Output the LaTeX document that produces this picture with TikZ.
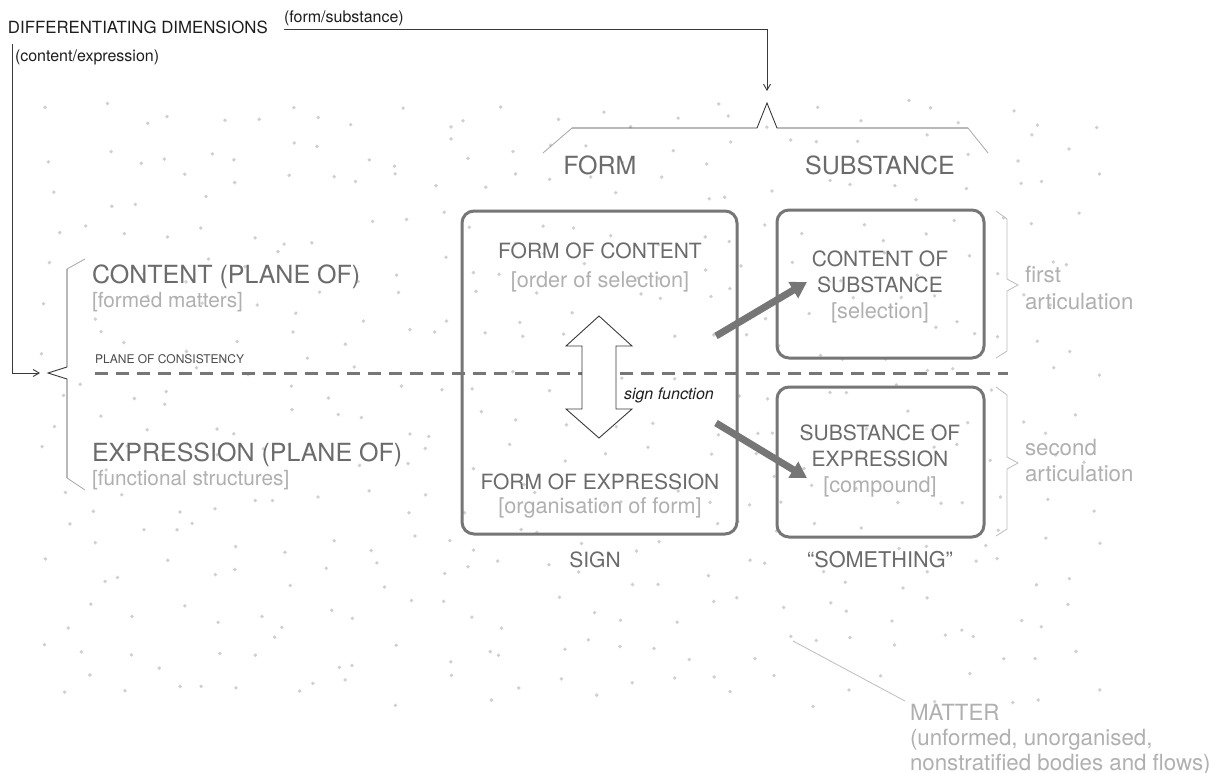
\documentclass[tikz,border=0pt]{standalone}
\usepackage{fontspec}
\setmainfont{TeX Gyre Heros}
\usetikzlibrary{arrows.meta}

\definecolor{ink}{HTML}{1E1E1E}
\definecolor{boxline}{HTML}{767676}
\definecolor{darktxt}{HTML}{6B6B6B}
\definecolor{lighttxt}{HTML}{B0B0B0}
\definecolor{dotc}{HTML}{D0D0D0}
\definecolor{thinline}{HTML}{3A3A3A}
\definecolor{paleline}{HTML}{BDBDBD}

\begin{document}
\begin{tikzpicture}[x=1pt,y=-1pt,
  every node/.style={inner sep=0pt, outer sep=0pt},
  heading/.style={font=\fontsize{16.8}{19}\selectfont, text=ink, anchor=base west},
  note/.style={font=\fontsize{16}{18}\selectfont, text=ink, anchor=base west},
  tinynote/.style={font=\fontsize{12}{14}\selectfont, text=ink!80, anchor=base west},
  plane/.style={font=\fontsize{25}{30}\selectfont, text=darktxt, anchor=base west},
  planesub/.style={font=\fontsize{20.8}{24}\selectfont, text=lighttxt, anchor=base west},
  column/.style={font=\fontsize{25}{30}\selectfont, text=darktxt, anchor=base},
  boxtitle/.style={font=\fontsize{21}{26}\selectfont, text=darktxt, anchor=base},
  boxsub/.style={font=\fontsize{21.7}{26}\selectfont, text=lighttxt, anchor=base},
  sidenote/.style={font=\fontsize{22.3}{26}\selectfont, text=lighttxt, anchor=base west},
  frame/.style={draw=boxline, line width=3pt, rounded corners=12pt},
  bracket/.style={draw=thinline, line width=0.9pt},
  fadedbracket/.style={draw=thinline!45, line width=0.8pt},
  palebracket/.style={draw=paleline, line width=0.8pt},
  flow/.style={draw=boxline, line width=7pt, -{Triangle[length=16pt,width=18pt]}},
  pointer/.style={draw=thinline, line width=0.9pt, -{Straight Barb[length=6pt,width=7pt]}},
]
\useasboundingbox (0,0) rectangle (1223,773);
\fill[white] (0,0) rectangle (1223,773);

% scattered matter: one jittered dot per grid cell
\pgfmathsetseed{20240}
\foreach \gx in {0,...,27}{
  \foreach \gy in {0,...,15}{
    \pgfmathsetmacro{\px}{40+\gx*38+34*rnd}
    \pgfmathsetmacro{\py}{96+\gy*38.5+34*rnd}
    \fill[dotc] (\px,\py) circle[radius=1.9pt];
  }
}

% plane of consistency
\coordinate (pcL) at (95,373);
\coordinate (pcR) at (1008,373);
\draw[boxline, line width=3pt, dash pattern=on 13pt off 8pt] (pcL) -- (pcR);

% frames
\node[frame, minimum width=275pt, minimum height=323pt] (sign) at (599.5,372.5) {};
\node[frame, minimum width=207pt, minimum height=148pt] (cs) at (880.5,284) {};
\node[frame, minimum width=207pt, minimum height=150pt] (se) at (880.5,462) {};

% sign function double arrow
\draw[bracket, fill=white] (599,316) -- (632,346) -- (616,346) -- (616,409) -- (632,409)
  -- (599,438) -- (566,409) -- (582,409) -- (582,346) -- (566,346) -- cycle;
\node[font=\fontsize{16}{18}\selectfont\itshape, text=ink, anchor=base west] (sf) at (624,399) {sign function};

% flows from form to substance
\coordinate (fcOut) at (716,336);
\coordinate (csIn) at (807,282);
\coordinate (feOut) at (716,423);
\coordinate (seIn) at (807,478);
\draw[flow] (fcOut) -- (csIn);
\draw[flow] (feOut) -- (seIn);

% headings and dimension pointers
\node[heading] (dims) at (8,34) {DIFFERENTIATING DIMENSIONS};
\node[note] (fs) at (284,23) {(form/substance)};
\node[note] (ce) at (15,62) {(content/expression)};
\coordinate (fsStart) at (284,29);
\coordinate (fsTip) at (767,91);
\coordinate (ceStart) at (12,44);
\coordinate (ceTip) at (40,373);
\draw[pointer] (fsStart) -| (fsTip);
\draw[pointer] (ceStart) |- (ceTip);

% braces
\draw[fadedbracket] (85,259) -- (67,269);
\draw[bracket] (67,269) -- (67,367) -- (48,373) -- (67,379) -- (67,478);
\draw[fadedbracket] (67,478) -- (85,490);
\draw[fadedbracket] (543,153) -- (572,128);
\draw[bracket] (572,128) -- (757,128) -- (767,103) -- (777,128) -- (968,128);
\draw[fadedbracket] (968,128) -- (988,153);
\draw[palebracket] (996,211) -- (1007,219) -- (1007,279) -- (1018,285) -- (1007,291) -- (1007,351) -- (996,358);
\draw[palebracket] (996,387) -- (1007,395) -- (1007,457) -- (1018,463) -- (1007,469) -- (1007,529) -- (996,536);

% plane labels
\node[plane] (cpl) at (92,283) {CONTENT (PLANE OF)};
\node[planesub] (cpls) at (92,307) {[formed matters]};
\node[tinynote] (pc) at (95,363) {PLANE OF CONSISTENCY};
\node[plane] (epl) at (92,461) {EXPRESSION (PLANE OF)};
\node[planesub] (epls) at (92,485) {[functional structures]};

% column labels
\node[column] (form) at (600,175) {FORM};
\node[column] (subst) at (880,175) {SUBSTANCE};

% sign box
\node[boxtitle] (foc) at (600,258) {FORM OF CONTENT};
\node[boxsub] (focs) at (600,287) {[order of selection]};
\node[boxtitle] (foe) at (600,489) {FORM OF EXPRESSION};
\node[boxsub] (foes) at (600,513) {[organisation of form]};
\node[boxtitle] (signlbl) at (595,567) {SIGN};

% substance boxes
\node[boxtitle] (cs1) at (880,266) {CONTENT OF};
\node[boxtitle] (cs2) at (880,292) {SUBSTANCE};
\node[boxsub] (cs3) at (880,318) {[selection]};
\node[boxtitle] (se1) at (880,440) {SUBSTANCE OF};
\node[boxtitle] (se2) at (880,466) {EXPRESSION};
\node[boxsub] (se3) at (880,492) {[compound]};
\node[boxtitle, font=\fontsize{21.7}{26}\selectfont] (sth) at (880,567) {“SOMETHING”};

% articulations
\node[sidenote] (fa1) at (1025,282) {first};
\node[sidenote] (fa2) at (1025,309) {articulation};
\node[sidenote] (sa1) at (1025,455) {second};
\node[sidenote] (sa2) at (1025,481) {articulation};

% matter
\coordinate (mLineA) at (793,641);
\coordinate (mLineB) at (905,701);
\draw[palebracket] (mLineA) -- (mLineB);
\node[sidenote] (m1) at (910,720) {MATTER};
\node[sidenote] (m2) at (910,745) {(unformed, unorganised,};
\node[sidenote] (m3) at (910,770) {nonstratified bodies and flows)};
\end{tikzpicture}
\end{document}
